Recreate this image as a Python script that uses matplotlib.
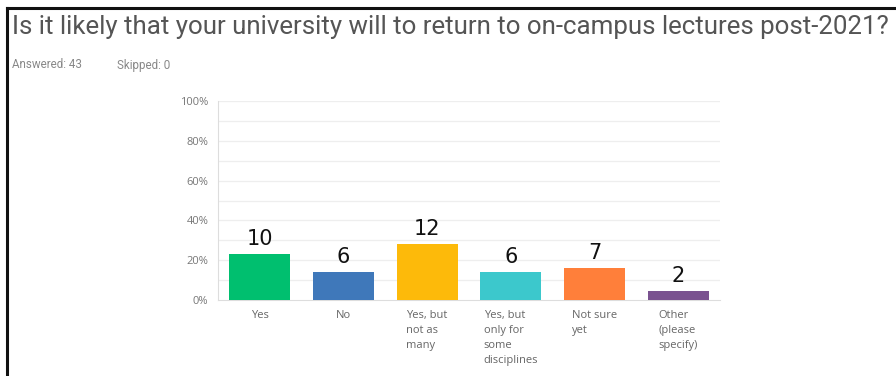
import matplotlib
matplotlib.use("Agg")
import matplotlib.pyplot as plt
from matplotlib.lines import Line2D

categories = ["Yes", "No", "Yes, but\nnot as\nmany", "Yes, but\nonly for\nsome\ndisciplines",
              "Not sure\nyet", "Other\n(please\nspecify)"]
counts = [10, 6, 12, 6, 7, 2]
total = 43
colors = ["#00BF6F", "#3F78BA", "#FDBA0A", "#3CC8CC", "#FF7F3A", "#7A5290"]
yticks = [0, 20, 40, 60, 80, 100]
ytick_labels = ["0%", "20%", "40%", "60%", "80%", "100%"]

pcts = [c / total * 100 for c in counts]

fig = plt.figure(figsize=(8.96, 3.76), dpi=100)
fig.patch.set_facecolor("white")

# screenshot border
fig.add_artist(Line2D([7/896, 7/896], [0, 1 - 7.5/376], transform=fig.transFigure, color="#111111", lw=2.2))
fig.add_artist(Line2D([7/896, 1], [1 - 7.5/376, 1 - 7.5/376], transform=fig.transFigure, color="#111111", lw=2.2))

fig.text(12/896, 1 - 27/376, "Is it likely that your university will to return to on-campus lectures post-2021?",
         fontsize=18.6, color="#555555", family="Roboto", va="center", ha="left")
fig.text(12/896, 1 - 65/376, "Answered: 43", fontsize=8.4, color="#888888", family="Roboto", va="center")
fig.text(117/896, 1 - 65/376, "Skipped: 0", fontsize=8.4, color="#888888", family="Roboto", va="center")

ax = fig.add_axes([218/896, 1 - 300/376, (720 - 218)/896, (300 - 101)/376])
x = list(range(len(categories)))
ax.bar(x, pcts, width=0.73, color=colors, zorder=3)
ax.set_xlim(-0.5, len(categories) - 0.5)
ax.set_ylim(0, 100)

for xi, p, c in zip(x, pcts, counts):
    ax.text(xi, p + 2.5, str(c), ha="center", va="bottom", fontsize=15, color="#111111", family="DejaVu Sans")

for g in range(10, 101, 10):
    ax.axhline(g, color="#eeeeee", lw=0.9, zorder=0)
ax.set_yticks(yticks)
ax.set_yticklabels(ytick_labels, fontsize=8, color="#777777", family="Open Sans")
ax.tick_params(axis="y", length=0, pad=7)
ax.set_xticks(x)
ax.set_xticklabels(categories, fontsize=8, color="#666666", family="Open Sans",
                   va="top", ha="center", multialignment="left", linespacing=1.5)
ax.tick_params(axis="x", length=0, pad=7)

for s in ["top", "right"]:
    ax.spines[s].set_visible(False)
ax.spines["left"].set_color("#dddddd")
ax.spines["bottom"].set_color("#dddddd")

fig.savefig("out.png", dpi=100, facecolor="white")
